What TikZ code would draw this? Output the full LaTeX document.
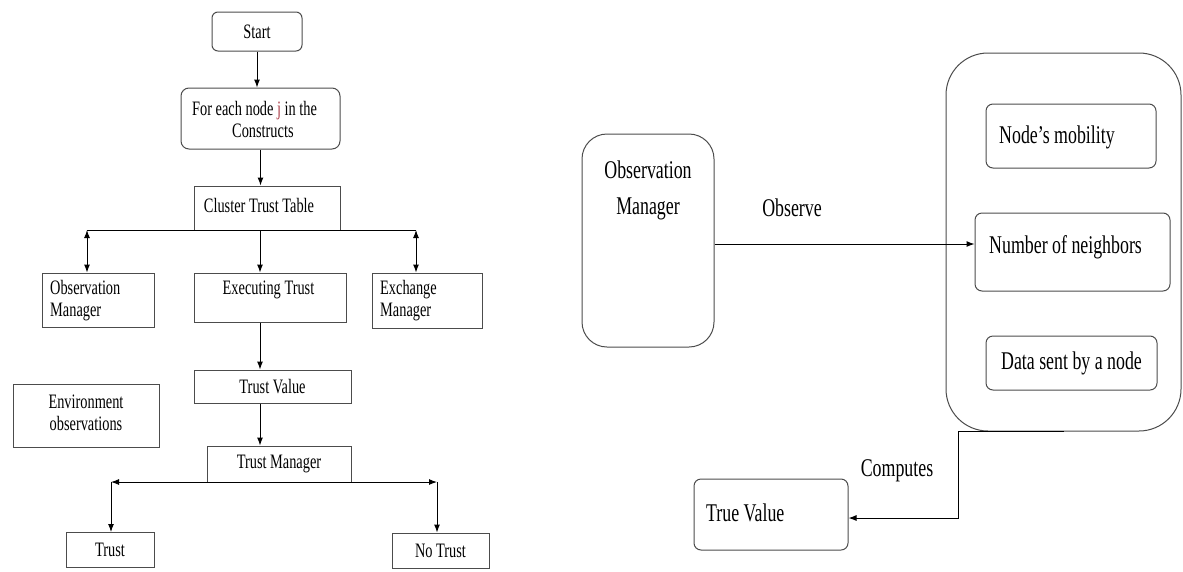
\documentclass[tikz,border=0pt]{standalone}
\usepackage{fontspec}
\setmainfont{Liberation Serif}[FakeStretch=0.7]
\usetikzlibrary{arrows.meta}
\definecolor{jred}{RGB}{170,60,70}
\begin{document}
\begin{tikzpicture}[x=1pt,y=-1pt,
  box/.style={draw=black!70, line width=1pt, inner sep=0pt},
  txt/.style={inner sep=0pt},
  lf/.style={font=\fontsize{20.5}{22}\selectfont},
  rf/.style={font=\fontsize{25.5}{36}\selectfont},
  conn/.style={line width=1pt},
  arr/.style={line width=1pt, -{Latex[length=8pt,width=6pt]}},
  darr/.style={line width=1pt, {Latex[length=8pt,width=6pt]}-{Latex[length=8pt,width=6pt]}}]
\useasboundingbox (0,0) rectangle (1183,571);
% ---------- left flow chart ----------
\node[box, lf, rounded corners=6pt, minimum width=90pt, minimum height=39pt] (start) at (257,31.5) {Start};
\node[box, rounded corners=8pt, minimum width=159pt, minimum height=61pt] (foreach) at (260.5,118.5) {};
\node[txt, lf, align=left, anchor=west] (foreach-t) at (192,119) {For each node {\color{jred}j} in the\\\hspace*{40pt}Constructs};
\node[box, minimum width=146pt, minimum height=44pt] (ctt) at (267,208) {};
\node[txt, lf] (ctt-t) at (259,205) {Cluster Trust Table};
\draw[arr] (start.south) -- (start.south |- foreach.north);
\draw[arr] (foreach.south) -- (foreach.south |- ctt.north);

\node[box, minimum width=112pt, minimum height=54pt] (om1) at (98,300) {};
\node[txt, lf, align=left, anchor=west] (om1-t) at (50,301) {Observation\\Manager};
\node[box, minimum width=152pt, minimum height=49pt] (exec) at (270,297.5) {};
\node[txt, lf] (exec-t) at (268.5,290) {Executing Trust};
\node[box, minimum width=110pt, minimum height=55pt] (exm) at (427,300.5) {};
\node[txt, lf, align=left, anchor=west] (exm-t) at (380,301) {Exchange\\Manager};

\coordinate (jl) at (87,230);
\coordinate (jr) at (416,230);
\coordinate (jm) at (260,230);
\draw[conn] (jl) -- (jr);
\draw[darr] (jl) -- (jl |- om1.north);
\draw[darr] (jr) -- (jr |- exm.north);
\draw[arr] (jm) -- (jm |- exec.north);

\node[box, lf, minimum width=157pt, minimum height=33pt] (tv) at (272.5,386.5) {Trust Value};
\draw[arr] (jm |- exec.south) -- (jm |- tv.north);
\node[box, minimum width=146pt, minimum height=63pt] (env) at (86,415.5) {};
\node[txt, lf, align=center] (env-t) at (86,412.5) {Environment\\observations};
\node[box, lf, minimum width=144pt, minimum height=36pt] (tm) at (279,464) {Trust Manager};
\draw[arr] (jm |- tv.south) -- (jm |- tm.north);

\coordinate (bl) at (111,482);
\coordinate (br) at (437,482);
\draw[darr] (bl) -- (br);
\node[box, lf, minimum width=88pt, minimum height=35pt] (trust) at (110,550) {Trust};
\node[box, lf, minimum width=97pt, minimum height=35pt] (notrust) at (440.5,550.5) {No Trust};
\draw[arr] (bl) -- (bl |- trust.north);
\draw[arr] (br) -- (br |- notrust.north);

% ---------- right diagram ----------
\node[box, rounded corners=25pt, minimum width=132pt, minimum height=213pt] (om2) at (648,240.5) {};
\node[txt, rf, align=center] (om2-t) at (648,190) {Observation\\Manager};
\node[txt, rf] (observe) at (792,208) {Observe};
\node[box, rounded corners=42pt, minimum width=235pt, minimum height=378pt] (big) at (1063.5,242) {};
\node[box, rounded corners=7pt, minimum width=170pt, minimum height=64pt] (nm) at (1071,136) {};
\node[txt, rf, anchor=west] (nm-t) at (999,137) {Node’s mobility};
\node[box, rounded corners=7pt, minimum width=195pt, minimum height=78pt] (nn) at (1072.5,252) {};
\node[txt, rf, anchor=west] (nn-t) at (989,247) {Number of neighbors};
\node[box, rf, rounded corners=7pt, minimum width=171pt, minimum height=54pt] (ds) at (1071.5,363) {Data sent by a node};
\node[box, rounded corners=7pt, minimum width=154pt, minimum height=71pt] (tval) at (771,514.5) {};
\node[txt, rf, anchor=west] (tval-t) at (706,513) {True Value};

\coordinate (os) at ([yshift=-3.5pt]om2.east);
\draw[arr] (os) -- (os -| nn.west);
\coordinate (cb) at (958,518);
\draw[arr] (big.south) -- (big.south -| cb) -- (cb) -- (cb -| tval.east);
\node[txt, rf] (computes) at (897,471) {Computes};
\end{tikzpicture}
\end{document}
